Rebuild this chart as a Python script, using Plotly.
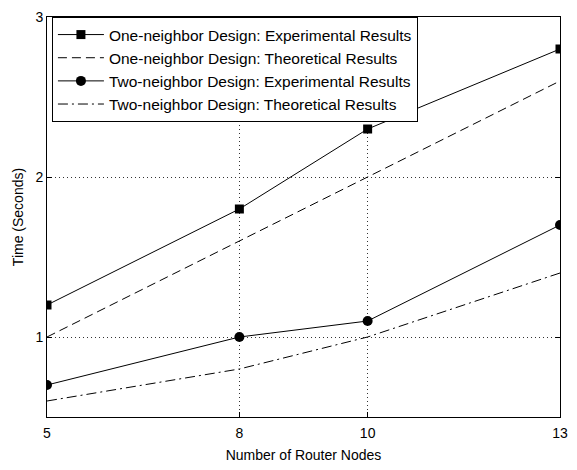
import plotly.graph_objects as go

nodes = [5, 8, 10, 13]
one_exp = [1.2, 1.8, 2.3, 2.8]
one_theo = [1.0, 1.6, 2.0, 2.6]
two_exp = [0.7, 1.0, 1.1, 1.7]
two_theo = [0.6, 0.8, 1.0, 1.4]
names = ["One-neighbor Design: Experimental Results",
         "One-neighbor Design: Theoretical Results",
         "Two-neighbor Design: Experimental Results",
         "Two-neighbor Design: Theoretical Results"]

FONT = "Liberation Sans, Arial"

fig = go.Figure()
fig.add_trace(go.Scatter(x=nodes, y=one_exp, name=names[0], mode="lines+markers",
                         line=dict(color="black", width=1),
                         marker=dict(symbol="square", size=9, color="black")))
fig.add_trace(go.Scatter(x=nodes, y=one_theo, name=names[1], mode="lines",
                         line=dict(color="black", width=1, dash="9px,5px")))
fig.add_trace(go.Scatter(x=nodes, y=two_exp, name=names[2], mode="lines+markers",
                         line=dict(color="black", width=1),
                         marker=dict(symbol="circle", size=10, color="black")))
fig.add_trace(go.Scatter(x=nodes, y=two_theo, name=names[3], mode="lines",
                         line=dict(color="black", width=1, dash="10px,4px,2px,4px")))

axis_common = dict(showline=True, linecolor="black", linewidth=1, mirror="allticks",
                   ticks="inside", ticklen=5, tickcolor="black",
                   showgrid=True, gridcolor="#333333", gridwidth=1, griddash="1px,3px",
                   zeroline=False, ticklabeloverflow="allow",
                   tickfont=dict(family=FONT, size=14, color="black"),
                   title_font=dict(family=FONT, size=14, color="black"))

fig.update_xaxes(range=[5, 13], tickvals=nodes, ticktext=[str(n) for n in nodes],
                 ticklabelstandoff=3,
                 title_text="Number of Router Nodes", title_standoff=10, **axis_common)
fig.update_yaxes(range=[0.5, 3], tickvals=[1, 2, 3], ticktext=["1", "2", "3"],
                 title_text="Time (Seconds)", title_standoff=8, **axis_common)

fig.update_layout(
    width=577, height=470,
    margin=dict(l=47, r=9, t=15, b=44),
    plot_bgcolor="white", paper_bgcolor="white",
    font=dict(family=FONT, size=14, color="black"),
    showlegend=True,
    legend=dict(x=0.0096, y=1.0, xanchor="left", yanchor="top",
                bgcolor="white", bordercolor="black", borderwidth=1,
                font=dict(family=FONT, size=15.5, color="black"),
                tracegroupgap=0, itemwidth=46),
)

fig.write_html("out.html", config={"displayModeBar": False},
               post_script="document.body.style.margin='0';document.body.style.overflow='hidden';")
